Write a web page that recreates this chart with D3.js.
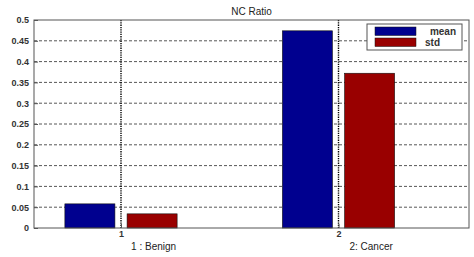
<!DOCTYPE html>
<html>
<head>
<meta charset="utf-8">
<script src="https://cdn.jsdelivr.net/npm/d3@7"></script>
<style>
    body { margin: 0; background: #fff; }
    svg { display: block; font-family: "Liberation Sans", Arial, sans-serif; }
</style>
</head>
<body>
<div id="chart"></div>
<script>
    // Data
    var categories = [1, 2];
    var categoryNames = ['1 : Benign', '2: Cancer'];
    var seriesNames = ['mean', 'std'];
    var meanValues = [0.058, 0.474];
    var stdValues = [0.034, 0.372];
    var yTicks = [0, 0.05, 0.1, 0.15, 0.2, 0.25, 0.3, 0.35, 0.4, 0.45, 0.5];

    var colors = {mean: '#00008f', std: '#990000'};
    var width = 474, height = 257;
    var margin = {top: 20, right: 5, bottom: 29, left: 34};
    var innerW = width - margin.left - margin.right,
        innerH = height - margin.top - margin.bottom;

    var x = d3.scaleLinear().domain([0.6, 2.6]).range([0, innerW]);
    var y = d3.scaleLinear().domain([0, 0.5]).range([innerH, 0]);

    var barW = 0.23, barOffset = 0.143;

    var svg = d3.select('#chart').append('svg')
        .attr('width', width)
        .attr('height', height);

    var g = svg.append('g')
        .attr('transform', 'translate(' + margin.left + ',' + margin.top + ')');

    // Horizontal grid (dashed)
    g.selectAll('.ygrid').data(yTicks.slice(1, -1))
        .enter().append('line')
        .attr('x1', 0).attr('x2', innerW)
        .attr('y1', d => y(d)).attr('y2', d => y(d))
        .attr('stroke', '#444')
        .attr('stroke-width', 0.9)
        .attr('stroke-dasharray', '3,2');

    // Vertical grid (dotted)
    g.selectAll('.xgrid').data(categories)
        .enter().append('line')
        .attr('x1', d => x(d)).attr('x2', d => x(d))
        .attr('y1', 0).attr('y2', innerH)
        .attr('stroke', '#000')
        .attr('stroke-width', 1.4)
        .attr('stroke-dasharray', '1.3,1');

    // Bars
    var rows = categories.map((c, i) => ({cat: c, mean: meanValues[i], std: stdValues[i]}));
    seriesNames.forEach(function(s, si) {
        var off = si === 0 ? -barOffset : barOffset;
        g.selectAll('.bar-' + s).data(rows)
            .enter().append('rect')
            .attr('x', d => x(d.cat + off - barW / 2))
            .attr('width', x(barW) - x(0))
            .attr('y', d => y(d[s]))
            .attr('height', d => y(0) - y(d[s]))
            .attr('fill', colors[s])
            .attr('stroke', '#111')
            .attr('stroke-width', 0.6);
    });

    // Axes box
    g.append('rect')
        .attr('width', innerW).attr('height', innerH)
        .attr('fill', 'none')
        .attr('stroke', '#555')
        .attr('stroke-width', 1);

    // Y axis
    var yAxis = d3.axisLeft(y).tickValues(yTicks).tickSize(-4).tickPadding(5)
        .tickFormat(d => d3.format('')(+d.toFixed(2)));
    var ya = g.append('g').call(yAxis);
    ya.select('.domain').remove();
    ya.selectAll('line').attr('stroke', '#555');
    ya.selectAll('text')
        .attr('font-size', 9).attr('font-weight', 'bold').attr('fill', '#333')
        .attr('font-family', '"Liberation Sans", Arial, sans-serif');

    // X axis
    var xAxis = d3.axisBottom(x).tickValues(categories).tickSize(-4).tickPadding(3)
        .tickFormat(d3.format('d'));
    var xa = g.append('g').attr('transform', 'translate(0,' + innerH + ')').call(xAxis);
    xa.select('.domain').remove();
    xa.selectAll('line').attr('stroke', '#555');
    xa.selectAll('text')
        .attr('font-size', 9).attr('font-weight', 'bold').attr('fill', '#333')
        .attr('font-family', '"Liberation Sans", Arial, sans-serif');

    // X label (category names)
    g.selectAll('.xname').data(categories)
        .enter().append('text')
        .attr('x', d => x(d + 0.15))
        .attr('y', innerH + 22)
        .attr('text-anchor', 'middle')
        .attr('font-size', 10)
        .attr('fill', '#222')
        .text((d, i) => categoryNames[i]);

    // Title
    svg.append('text')
        .attr('x', margin.left + innerW / 2)
        .attr('y', 15)
        .attr('text-anchor', 'middle')
        .attr('font-size', 10)
        .attr('fill', '#222')
        .text('NC Ratio');

    // Legend
    var legend = svg.append('g').attr('transform', 'translate(367,24)');
    legend.append('rect')
        .attr('width', 95).attr('height', 26)
        .attr('fill', '#fff').attr('stroke', '#555').attr('stroke-width', 1);
    seriesNames.forEach(function(s, i) {
        legend.append('rect')
            .attr('x', 8).attr('y', 3 + i * 11)
            .attr('width', 41).attr('height', 8.5)
            .attr('fill', colors[s]).attr('stroke', '#111').attr('stroke-width', 0.5);
        legend.append('text')
            .attr('x', i === 0 ? 89 : 58)
            .attr('y', 10.5 + i * 11)
            .attr('text-anchor', i === 0 ? 'end' : 'start')
            .attr('font-size', 10).attr('font-weight', 'bold').attr('fill', '#333')
            .text(s);
    });
</script>
</body>
</html>
